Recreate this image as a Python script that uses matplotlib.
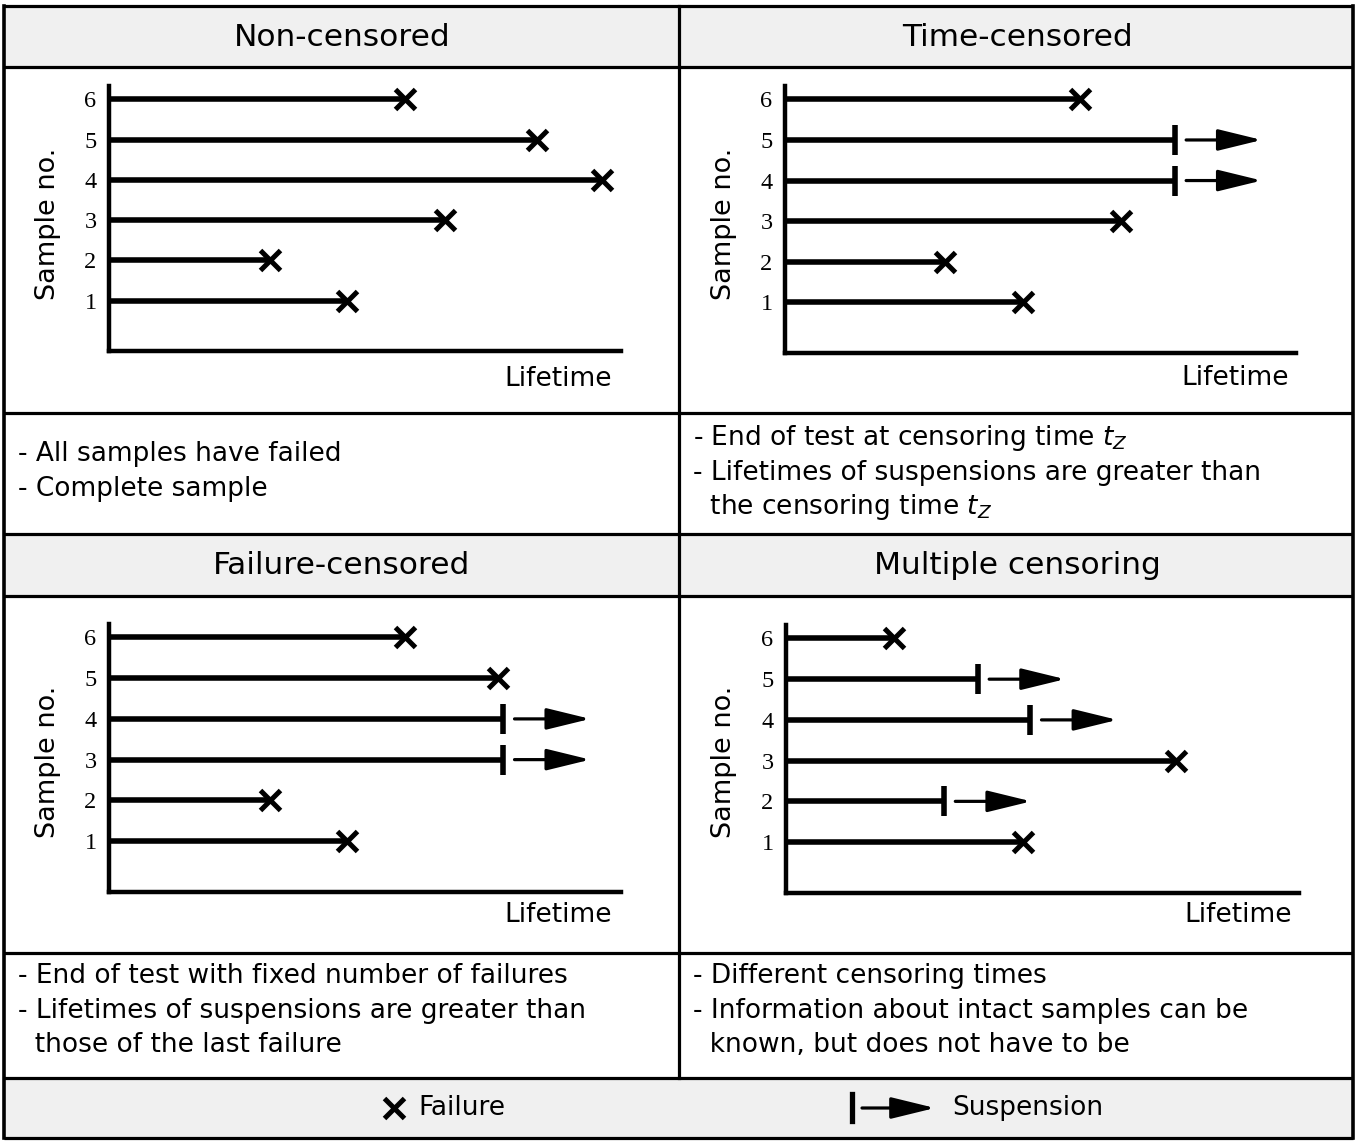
import matplotlib
matplotlib.use("Agg")
import matplotlib.pyplot as plt

W, H = 1358, 1146

# sample numbers and lifetimes (arbitrary lifetime units, axis runs 0..10)
samples = [1, 2, 3, 4, 5, 6]

non_fail = [4.65, 3.14, 6.56, 9.63, 8.36, 5.78]

time_fail = {1: 4.66, 2: 3.13, 3: 6.58, 6: 5.77}
time_susp = {4: 7.63, 5: 7.63}

failc_fail = {1: 4.65, 2: 3.14, 5: 7.6, 6: 5.78}
failc_susp = {3: 7.7, 4: 7.7}

multi_fail = {1: 4.62, 3: 7.6, 6: 2.1}
multi_susp = {2: 3.08, 4: 4.76, 5: 3.74}

titles = ["Non-censored", "Time-censored", "Failure-censored", "Multiple censoring"]
notes = [
    ["- All samples have failed", "- Complete sample"],
    ["- End of test at censoring time $t_Z$",
     "- Lifetimes of suspensions are greater than",
     "  the censoring time $t_Z$"],
    ["- End of test with fixed number of failures",
     "- Lifetimes of suspensions are greater than",
     "  those of the last failure"],
    ["- Different censoring times",
     "- Information about intact samples can be",
     "  known, but does not have to be"],
]

plt.rcParams['font.family'] = ['DejaVu Sans']
plt.rcParams['mathtext.fontset'] = 'dejavusans'

fig = plt.figure(figsize=(W / 100, H / 100), dpi=100)
bg = fig.add_axes([0, 0, 1, 1])
bg.set_xlim(0, W)
bg.set_ylim(H, 0)
bg.axis('off')

gray = '#f0f0f0'
L, R, MID = 4, 1353, 679
rows_y = [6, 67, 413, 534, 596, 953, 1078, 1138]

# header and legend fills
for y0, y1 in [(6, 67), (534, 596), (1078, 1138)]:
    bg.fill_between([L, R], y0, y1, color=gray, zorder=0)

for y in rows_y:
    bg.plot([L, R], [y, y], color='k', lw=2.3, solid_capstyle='butt')
bg.plot([L, L], [6, 1138], color='k', lw=2.6)
bg.plot([R, R], [6, 1138], color='k', lw=2.6)
bg.plot([MID, MID], [6, 1078], color='k', lw=2.3)

hdr_font = 22.5
txt_font = 19
centers_x = [342, 1017, 342, 1017]
hdr_y = [37, 37, 565, 565]
for i in range(4):
    bg.text(centers_x[i], hdr_y[i], titles[i], ha='center', va='center',
            fontsize=hdr_font)

note_left = [18, 693, 18, 693]
note_top = [454, 438, 976, 976]
for i in range(4):
    for j, line in enumerate(notes[i]):
        bg.text(note_left[i], note_top[i] + 34.5 * j, line, ha='left',
                va='center', fontsize=txt_font)

arrow_style = dict(arrowstyle='-|>,head_length=1.35,head_width=0.33',
                   mutation_scale=20, lw=2.3, color='k', shrinkA=0, shrinkB=0)

# legend row
bg.plot([394], [1108], marker='x', color='k', ms=14, mew=3.6)
bg.text(418, 1108, "Failure", ha='left', va='center', fontsize=txt_font)
bg.plot([852, 852], [1094, 1121], color='k', lw=3.8)
bg.annotate('', xy=(935, 1108), xytext=(862, 1108), arrowprops=arrow_style)
bg.text(952, 1108, "Suspension", ha='left', va='center', fontsize=txt_font)

# plot areas (pixel boxes: left, right, top, bottom)
boxes = [(109, 621, 86, 351), (785, 1296, 86, 353),
         (109, 621, 624, 892), (786, 1299, 625, 893)]
label_pos = [((48, 224), (612, 379)), ((724, 224), (1289, 378)),
             ((48, 762), (612, 915)), ((724, 762), (1292, 915))]

panels = [
    (dict(zip(samples, non_fail)), {}),
    (time_fail, time_susp),
    (failc_fail, failc_susp),
    (multi_fail, multi_susp),
]


def draw_panel(ax, fails, susps):
    for s, x in fails.items():
        ax.plot([0, x], [s, s], color='k', lw=4.0, solid_capstyle='butt')
        ax.plot([x], [s], marker='x', color='k', ms=14, mew=3.6)
    for s, x in susps.items():
        ax.plot([0, x], [s, s], color='k', lw=4.0, solid_capstyle='butt')
        ax.plot([x, x], [s - 0.37, s + 0.37], color='k', lw=4.0,
                solid_capstyle='butt')
        ax.annotate('', xy=(x + 1.7, s), xytext=(x + 0.22, s),
                    arrowprops=arrow_style)
    ax.set_xlim(0, 10)
    ax.set_ylim(-0.25, 6.33)
    ax.set_xticks([])
    ax.set_yticks(samples)
    ax.set_yticklabels([str(s) for s in samples], family='Liberation Serif',
                       fontsize=17.5)
    ax.tick_params(axis='y', length=0, pad=9)
    for sp in ['top', 'right']:
        ax.spines[sp].set_visible(False)
    for sp in ['left', 'bottom']:
        ax.spines[sp].set_linewidth(3.2)
    ax.patch.set_alpha(0)


for i in range(4):
    l, r, t, b = boxes[i]
    ax = fig.add_axes([l / W, 1 - b / H, (r - l) / W, (b - t) / H])
    draw_panel(ax, *panels[i])
    (sx, sy), (lx, ly) = label_pos[i]
    bg.text(sx, sy, "Sample no.", rotation=90, ha='center', va='center',
            fontsize=19.5)
    bg.text(lx, ly, "Lifetime", ha='right', va='center', fontsize=19)

fig.savefig("out.png", dpi=100)
